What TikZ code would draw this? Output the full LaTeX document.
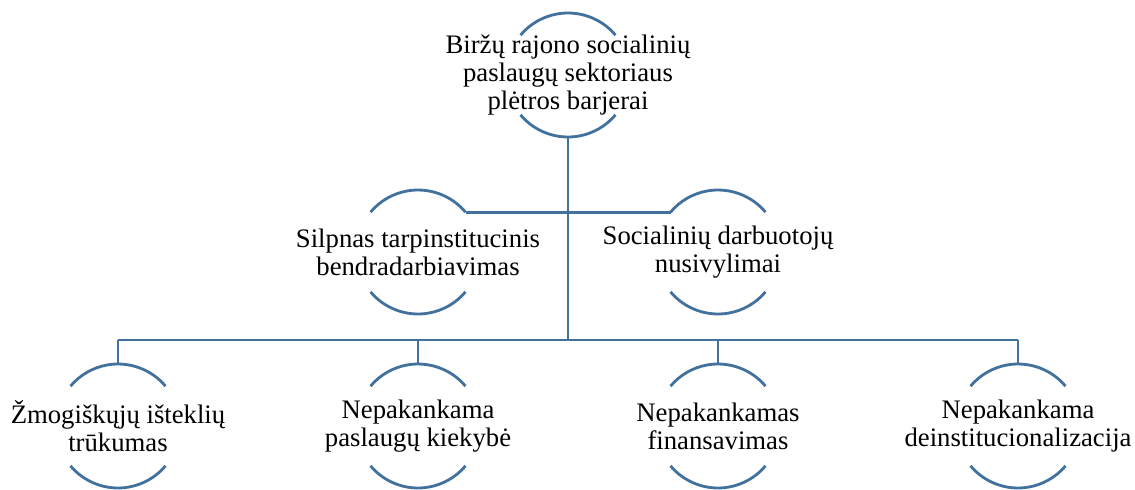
\documentclass[tikz,border=0pt]{standalone}
\usepackage{fontspec}
\setmainfont{Liberation Serif}
\usepackage{tikz}
\usetikzlibrary{calc, positioning}
\definecolor{ringblue}{RGB}{65,113,156}
\tikzset{
every node/.style={inner sep=1pt},
barrier/.style={align=center, font=\fontsize{15.2}{15.8}\selectfont}, % text inside a ring
ring/.style={draw=ringblue, line width=1.6pt}, % the two arcs of a ring
link/.style={draw=ringblue, line width=1.6pt}, % connectors
}
\newcommand{\ringr}{1.24cm}
% top and bottom arcs round a node
\newcommand{\ringarcs}[1]{
  \draw[ring] ([shift={(40:\ringr)}]#1.center) arc[start angle=40, end angle=140, radius=\ringr];
  \draw[ring] ([shift={(220:\ringr)}]#1.center) arc[start angle=220, end angle=320, radius=\ringr];
}
\begin{document}
\begin{tikzpicture}
  \useasboundingbox (0,0) rectangle (22.7,-9.78);

  % top
  \node[barrier] at (11.36,-1.5) (top){Biržų rajono socialinių\\paslaugų sektoriaus\\plėtros barjerai};

  % middle row
  \node[barrier] at (8.36,-5.04) (silpnas){Silpnas tarpinstitucinis\\bendradarbiavimas};
  \node[barrier] at (14.36,-5.04) (nusivyl){Socialinių darbuotojų\\nusivylimai};

  % bottom row
  \node[barrier] at (2.36,-8.52) (zmog){Žmogiškųjų išteklių\\trūkumas};
  \node[barrier] at (8.36,-8.52) (kiekybe){Nepakankama\\paslaugų kiekybė};
  \node[barrier] at (14.36,-8.52) (finans){Nepakankamas\\finansavimas};
  \node[barrier] at (20.36,-8.52) (deinst){Nepakankama\\deinstitucionalizacija};

  \foreach \n in {top,silpnas,nusivyl,zmog,kiekybe,finans,deinst}
  {
    \ringarcs{\n}
  }

  % connectors
  \coordinate (bus) at (0,-6.8);
  \draw[link] ([yshift=-\ringr]top.center) -- (top.center |- bus);
  \draw[link] ([shift={(40:\ringr)}]silpnas.center) -- ([shift={(140:\ringr)}]nusivyl.center);
  \draw[link] (zmog.center |- bus) -- (deinst.center |- bus);
  \foreach \n in {zmog,kiekybe,finans,deinst}
    \draw[link] (\n.center |- bus) -- ([yshift=\ringr]\n.center);
\end{tikzpicture}
\end{document}
